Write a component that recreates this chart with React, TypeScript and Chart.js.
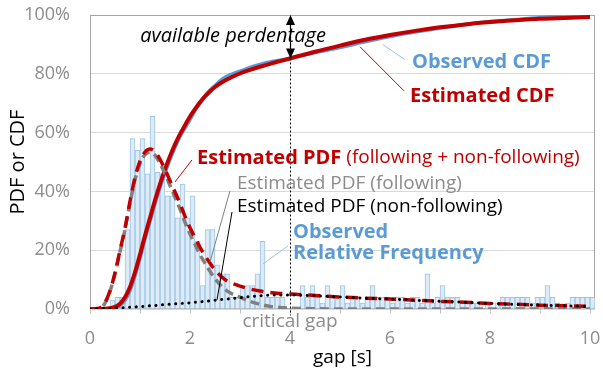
import React, { useEffect, useRef } from 'react';
import { Chart, registerables } from 'chart.js';
Chart.register(...registerables);

const FONT = "'Open Sans', sans-serif";

// Histogram: relative frequency, bins 0.1 s wide starting at 0.0 s
const binWidth = 0.1;
const histValues = [
  0, 0, 0, 0, 3, 4, 4, 27, 58, 54,
  58, 46, 65.5, 46.5, 46, 38.5, 38.5, 31, 42.5, 31,
  38.5, 23, 8, 27, 27, 15, 12, 12, 4, 4,
  8, 8, 8, 12, 23, 4, 4, 4, 4, 0,
  0, 0, 8, 4, 8, 4, 2, 8, 4, 4,
  8, 2, 4, 4, 2, 4, 8, 4, 4, 4,
  2, 4, 4, 2, 4, 4, 2, 12, 2, 4,
  8, 4, 4, 4, 2, 2, 2, 2, 0, 2,
  0, 2, 4, 4, 4, 4, 4, 4, 2, 4,
  4, 8, 4, 2, 0, 2, 4, 4, 4, 4,
  4,
];

// x grid (gap in seconds) for the curves
const gridX = [
  0, 0.1, 0.2, 0.3, 0.4, 0.5, 0.6, 0.7, 0.8, 0.9,
  1.0, 1.1, 1.2, 1.3, 1.4, 1.5, 1.6, 1.7, 1.8, 1.9,
  2.0, 2.1, 2.2, 2.3, 2.4, 2.5, 2.6, 2.7, 2.8, 2.9,
  3.0, 3.2, 3.4, 3.6, 3.8, 4.0, 4.5, 5.0, 5.5, 6.0,
  6.5, 7.0, 7.5, 8.0, 8.5, 9.0, 9.5, 10.0,
];

const pdfFollowing = [
  0, 0, 0.3, 2, 6, 12, 19.5, 27, 36, 44,
  49.5, 52.5, 53.3, 52.3, 49.5, 46, 42, 38, 34, 29.5,
  25.5, 22, 18.5, 15.5, 12.8, 10.3, 8.3, 6.7, 5.5, 4.7,
  4.0, 2.6, 1.6, 0.9, 0.5, 0.3, 0.1, 0, 0, 0,
  0, 0, 0, 0, 0, 0, 0, 0,
];

const pdfNonFollowing = [
  0, 0.05, 0.1, 0.15, 0.2, 0.3, 0.4, 0.5, 0.6, 0.7,
  0.8, 0.95, 1.1, 1.2, 1.35, 1.5, 1.6, 1.75, 1.85, 2.0,
  2.1, 2.3, 2.45, 2.6, 2.8, 3.0, 3.2, 3.35, 3.5, 3.7,
  3.85, 4.2, 4.5, 4.7, 4.8, 4.8, 4.5, 4.1, 3.7, 3.4,
  3.0, 2.6, 2.3, 1.9, 1.6, 1.3, 1.1, 0.9,
];

const pdfTotal = [
  0, 0.05, 0.4, 2.2, 6.2, 12.3, 19.9, 27.5, 36.6, 44.7,
  50.3, 53.4, 54.4, 53.5, 50.9, 47.5, 43.6, 39.8, 35.9, 31.5,
  27.6, 24.3, 21, 18.1, 15.6, 13.3, 11.5, 10, 9, 8.4,
  7.8, 6.8, 6.1, 5.6, 5.3, 5.1, 4.6, 4.1, 3.7, 3.4,
  3.0, 2.6, 2.3, 1.9, 1.6, 1.3, 1.1, 0.9,
];

const cdfEstimated = [
  0, 0, 0, 0.1, 0.3, 0.7, 1.8, 4, 7.5, 12.5,
  18.5, 25, 31, 37, 42.5, 47.5, 52, 56, 59.5, 62.5,
  65.5, 68, 70.3, 72.3, 74, 75.5, 76.7, 77.7, 78.6, 79.4,
  80.1, 81.3, 82.4, 83.4, 84.3, 85.2, 87.5, 89.6, 91.6, 93.2,
  94.6, 95.8, 96.8, 97.6, 98.2, 98.7, 99.0, 99.3,
];

const cdfObserved = [
  0, 0, 0, 0, 0.2, 0.6, 1.2, 3, 6.3, 11.3,
  17.3, 23.8, 29.8, 35.8, 41.3, 46.3, 50.8, 55, 58.6, 61.5,
  64.4, 67.5, 70, 72.5, 74.4, 76, 77.6, 78.8, 79.6, 80.3,
  80.9, 82.2, 83.2, 84, 84.6, 85.3, 87.2, 88.9, 90.9, 92.7,
  94.2, 95.6, 96.8, 97.8, 98.4, 99.1, 99.8, 100,
];

const yTicks = [0, 20, 40, 60, 80, 100];
const xLabelTicks = [0, 2, 4, 6, 8, 10];
const criticalGap = 4;
const cdfAtCriticalGap = 85.2;

const RED = '#C00000';
const BLUE = '#5B9BD5';
const TXTGRAY = '#8C8C8C';

const pts = (ys: number[]) => gridX.map((x, i) => ({ x, y: ys[i] }));

const framePlugin = {
  id: 'frame',
  beforeDatasetsDraw(chart: any) {
    const { ctx, chartArea: a } = chart;
    const xs = chart.scales.x;
    ctx.save();
    ctx.strokeStyle = '#A6A6A6';
    ctx.lineWidth = 1;
    const l = Math.round(a.left) + 0.5;
    const t = Math.round(a.top) + 0.5;
    const r = Math.round(a.right) - 0.5;
    const b = Math.round(a.bottom) - 0.5;
    ctx.strokeRect(l, t, r - l, b - t);
    ctx.strokeStyle = '#BFBFBF';
    ctx.beginPath();
    xs.ticks.forEach((tk: any) => {
      const px = Math.round(xs.getPixelForValue(tk.value)) + 0.5;
      ctx.moveTo(px, b);
      ctx.lineTo(px, b + 5);
    });
    ctx.stroke();
    ctx.restore();
  },
};

const annotationPlugin = {
  id: 'notes',
  afterDatasetsDraw(chart: any) {
    const { ctx } = chart;
    const xs = chart.scales.x;
    const ys = chart.scales.y;
    const X = (v: number) => xs.getPixelForValue(v);
    const Y = (v: number) => ys.getPixelForValue(v);
    ctx.save();
    const seg = (x1: number, y1: number, x2: number, y2: number, color: string, w = 1) => {
      ctx.beginPath();
      ctx.strokeStyle = color;
      ctx.lineWidth = w;
      ctx.moveTo(X(x1), Y(y1));
      ctx.lineTo(X(x2), Y(y2));
      ctx.stroke();
    };
    const text = (s: string, x: number, y: number, color: string, font: string, align: CanvasTextAlign = 'left') => {
      ctx.fillStyle = color;
      ctx.font = font;
      ctx.textAlign = align;
      ctx.textBaseline = 'middle';
      ctx.fillText(s, X(x), Y(y));
      return ctx.measureText(s).width;
    };

    // critical gap: dotted line and double arrow
    const cx = Math.round(X(criticalGap)) + 0.5;
    ctx.beginPath();
    ctx.setLineDash([2, 2]);
    ctx.strokeStyle = '#000';
    ctx.lineWidth = 1;
    ctx.moveTo(cx, Y(cdfAtCriticalGap));
    ctx.lineTo(cx, Y(-2.2));
    ctx.stroke();
    ctx.setLineDash([]);
    const top = Y(100);
    const bot = Y(cdfAtCriticalGap);
    ctx.beginPath();
    ctx.lineWidth = 1.2;
    ctx.moveTo(cx, top + 8);
    ctx.lineTo(cx, bot - 8);
    ctx.stroke();
    ctx.fillStyle = '#000';
    ctx.beginPath();
    ctx.moveTo(cx, top);
    ctx.lineTo(cx - 4.5, top + 10);
    ctx.lineTo(cx + 4.5, top + 10);
    ctx.closePath();
    ctx.fill();
    ctx.beginPath();
    ctx.moveTo(cx, bot);
    ctx.lineTo(cx - 4.5, bot - 10);
    ctx.lineTo(cx + 4.5, bot - 10);
    ctx.closePath();
    ctx.fill();

    text('available perdentage', 2.86, 92.6, '#000', `italic 20px ${FONT}`, 'center');
    text('critical gap', criticalGap, -4.4, TXTGRAY, `19px ${FONT}`, 'center');

    // leader lines
    seg(5.86, 89.9, 6.3, 84.8, '#9DC3E6');
    seg(5.4, 89.2, 6.28, 74.2, RED);
    seg(2.04, 50.7, 1.7, 43.2, RED);
    seg(2.8, 40.2, 2.4, 16, '#808080');
    seg(2.84, 33, 2.54, 3.1, '#000');
    seg(3.46, 15.3, 3.96, 21.5, '#9DC3E6');

    text('Observed CDF', 6.44, 83.8, BLUE, `bold 20px ${FONT}`);
    text('Estimated CDF', 6.4, 72.2, RED, `bold 20px ${FONT}`);
    const w = text('Estimated PDF', 2.14, 51.4, RED, `bold 20px ${FONT}`);
    ctx.font = `19px ${FONT}`;
    ctx.fillStyle = RED;
    ctx.fillText(' (following + non-following)', X(2.14) + w, Y(51.4));
    text('Estimated PDF (following)', 2.94, 42.6, TXTGRAY, `19px ${FONT}`);
    text('Estimated PDF (non-following)', 2.94, 34.9, '#000', `19px ${FONT}`);
    text('Observed', 4.06, 26.1, BLUE, `bold 20px ${FONT}`);
    text('Relative Frequency', 4.06, 18.8, BLUE, `bold 20px ${FONT}`);
    ctx.restore();
  },
};

export default function App() {
  const ref = useRef<HTMLCanvasElement>(null);
  useEffect(() => {
    document.body.style.margin = '0';
    Chart.defaults.font.family = FONT;
    const canvas = ref.current!;
    const chart = new Chart(canvas, {
      type: 'line',
      data: {
        datasets: [
          {
            type: 'line',
            label: 'Estimated PDF (non-following)',
            data: pts(pdfNonFollowing),
            borderColor: '#000',
            borderWidth: 3,
            borderDash: [0.1, 6.5],
            borderCapStyle: 'round',
            pointRadius: 0,
            cubicInterpolationMode: 'monotone',
          },
          {
            type: 'line',
            label: 'Estimated PDF (following + non-following)',
            data: pts(pdfTotal),
            borderColor: RED,
            borderWidth: 3.5,
            borderDash: [12, 7],
            pointRadius: 0,
            cubicInterpolationMode: 'monotone',
          },
          {
            type: 'line',
            label: 'Estimated PDF (following)',
            data: pts(pdfFollowing),
            borderColor: '#808080',
            borderWidth: 3.5,
            borderDash: [9, 5],
            pointRadius: 0,
            cubicInterpolationMode: 'monotone',
          },
          {
            type: 'line',
            label: 'Estimated CDF',
            data: pts(cdfEstimated),
            borderColor: RED,
            borderWidth: 4,
            pointRadius: 0,
            cubicInterpolationMode: 'monotone',
          },
          {
            type: 'line',
            label: 'Observed CDF',
            data: pts(cdfObserved),
            borderColor: BLUE,
            borderWidth: 3.5,
            pointRadius: 0,
            cubicInterpolationMode: 'monotone',
          },
          {
            type: 'bar',
            label: 'Observed Relative Frequency',
            data: histValues
              .map((v, i) => ({ x: i * binWidth + binWidth / 2, y: v }))
              .filter((p) => p.y > 0),
            backgroundColor: '#DDEBF7',
            borderColor: '#9DC3E6',
            borderWidth: 1,
            categoryPercentage: 1,
            barPercentage: 1,
            grouped: false,
          } as any,
        ],
      },
      options: {
        responsive: false,
        animation: false,
        devicePixelRatio: 1,
        layout: { padding: { top: 15, right: 8, left: 0, bottom: 0 } },
        plugins: { legend: { display: false }, tooltip: { enabled: false } },
        scales: {
          x: {
            type: 'linear',
            min: 0,
            max: 10.1,
            offset: false,
            border: { display: false },
            grid: { drawOnChartArea: false, drawTicks: true, tickLength: 19, tickColor: 'rgba(0,0,0,0)', offset: false },
            ticks: {
              stepSize: 1,
              includeBounds: false,
              autoSkip: false,
              maxRotation: 0,
              padding: 0,
              color: TXTGRAY,
              font: { size: 18 },
              callback: (v: any) => (xLabelTicks.includes(Number(v)) ? String(v) : ''),
            },
            title: { display: true, text: 'gap [s]', color: '#000', font: { size: 19 }, padding: { top: 0, bottom: 2 } },
            afterFit: (s: any) => { s.height = 62; },
          },
          y: {
            type: 'linear',
            min: 0,
            max: 100,
            border: { display: false },
            grid: { color: '#D9D9D9', drawTicks: true, tickLength: 20, tickColor: 'rgba(0,0,0,0)' },
            afterBuildTicks: (s: any) => { s.ticks = yTicks.map((value) => ({ value })); },
            ticks: {
              padding: 0,
              color: TXTGRAY,
              font: { size: 18 },
              callback: (v: any) => `${v}%`,
            },
            title: { display: true, text: 'PDF or CDF', color: '#000', font: { size: 20 }, padding: { top: 6, bottom: 0 } },
            afterFit: (s: any) => { s.width = 90; },
          },
        },
      },
      plugins: [framePlugin, annotationPlugin],
    } as any);
    return () => chart.destroy();
  }, []);
  return (
    <div style={{ width: 603, height: 371 }}>
      <canvas ref={ref} width={603} height={371} style={{ display: 'block' }} />
    </div>
  );
}
